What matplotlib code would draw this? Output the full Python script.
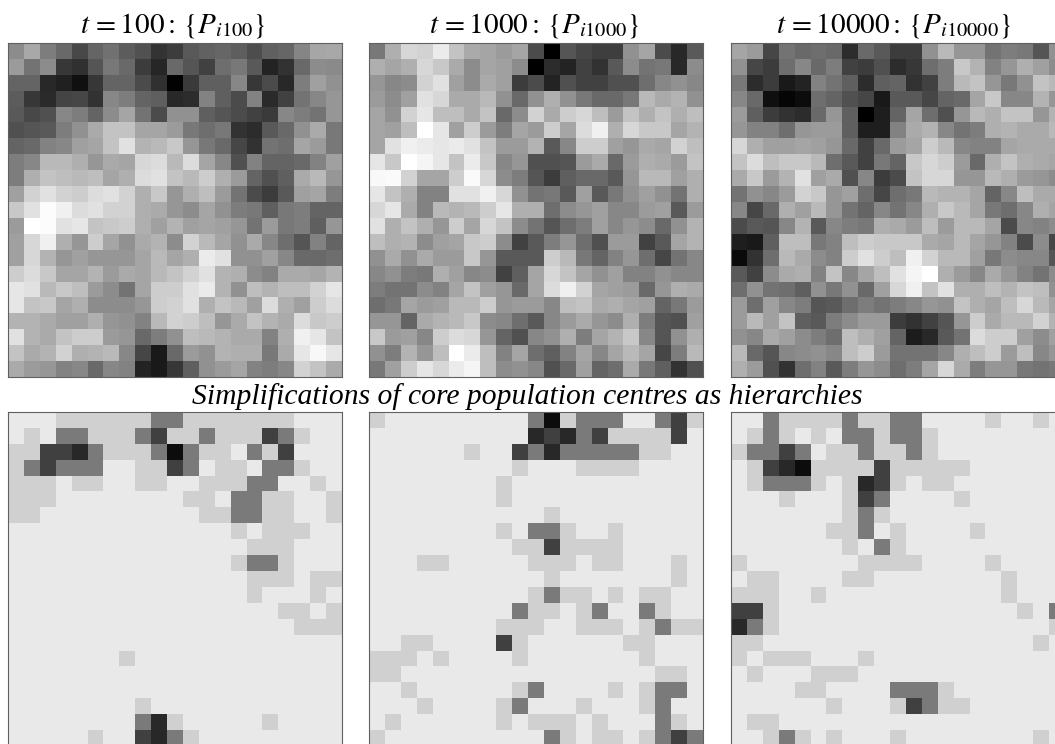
import numpy as np
import matplotlib
matplotlib.use("Agg")
import matplotlib.pyplot as plt
from matplotlib.colors import ListedColormap

plt.rcParams["font.family"] = ["Liberation Serif", "DejaVu Serif"]
plt.rcParams["mathtext.fontset"] = "stix"

# grey level of every cell, 0 black .. 255 white
pop_100 = [
    [140,168,125,106,72,101,114,92,82,51,60,90,98,102,94,77,96,102,133,166,168],
    [155,115,140,55,48,85,120,105,60,38,105,85,65,110,120,90,35,50,105,140,138],
    [100,100,40,32,16,55,100,100,75,48,2,58,95,95,135,55,75,40,125,160,145],
    [92,55,42,68,70,50,135,125,100,95,40,45,130,95,75,130,42,65,115,135,150],
    [90,72,80,135,125,100,140,165,115,75,145,145,95,85,75,65,58,135,125,115,150],
    [80,85,90,125,145,170,195,195,165,165,155,120,110,120,50,45,90,105,145,170,120],
    [100,105,130,135,160,165,195,225,180,185,200,150,120,105,70,50,115,110,165,155,120],
    [125,135,185,185,175,150,170,165,215,220,185,220,165,135,80,130,100,100,105,130,160],
    [125,175,195,190,185,190,165,175,220,225,195,185,205,175,155,100,80,95,170,185,150],
    [160,210,225,210,205,220,225,210,175,200,150,175,190,155,115,75,60,90,160,165,125],
    [200,225,252,240,220,225,210,210,175,170,150,140,165,145,125,120,95,120,125,100,100],
    [155,255,252,225,230,195,200,205,175,160,180,160,165,160,150,115,155,120,125,95,150],
    [160,215,240,175,150,205,165,145,170,180,140,210,185,165,145,170,135,110,85,130,100],
    [160,215,180,150,160,150,150,150,165,185,165,175,235,225,145,145,160,135,105,105,110],
    [205,220,200,165,165,180,155,170,165,185,195,210,225,180,175,140,130,170,170,165,180],
    [230,225,185,200,190,155,140,115,165,205,205,225,235,180,145,190,180,190,190,210,230],
    [230,195,200,165,175,140,140,140,150,205,210,225,175,195,185,160,220,175,160,205,220],
    [180,180,170,160,160,175,150,145,130,185,210,205,190,150,170,195,180,170,220,200,205],
    [225,180,170,195,205,205,155,150,105,125,145,190,185,180,170,170,130,175,240,230,195],
    [195,170,180,210,175,180,185,135,70,25,105,155,145,180,175,175,120,170,230,248,230],
    [170,155,150,130,135,105,135,130,35,25,55,95,145,155,165,130,125,135,210,195,170],
]

pop_1000 = [
    [120,175,215,210,235,195,170,165,155,165,75,0,85,70,62,62,145,165,75,40,90],
    [175,165,175,215,200,170,140,165,160,140,0,45,35,65,50,90,140,115,120,40,140],
    [150,135,140,210,225,160,140,170,160,60,75,35,80,65,65,80,80,110,135,145,135],
    [155,140,160,225,215,170,170,185,145,105,145,175,145,120,105,105,120,185,170,180,145],
    [165,145,210,230,190,190,170,195,105,140,210,170,205,215,190,155,195,175,195,175,190],
    [165,160,190,255,230,160,205,155,125,165,155,205,165,220,240,175,215,200,200,165,180],
    [165,225,240,235,230,235,225,195,155,155,180,90,135,205,205,160,150,170,165,210,190],
    [230,200,255,245,230,195,235,200,135,150,80,80,85,155,170,105,155,175,170,155,195],
    [248,250,210,165,165,205,250,215,140,125,85,60,95,105,105,90,150,185,185,160,175],
    [230,195,175,130,130,225,225,240,215,145,115,120,90,160,90,120,145,160,145,115,175],
    [215,230,170,130,185,180,185,205,230,175,175,110,140,150,160,135,135,155,160,90,155],
    [225,175,195,175,150,205,165,215,195,140,115,85,110,125,160,135,150,140,105,145,180],
    [190,175,180,140,160,165,200,205,140,65,90,125,150,110,80,155,155,65,90,165,180],
    [145,170,145,170,155,155,200,150,90,90,90,205,185,120,100,130,150,110,70,115,135],
    [135,145,125,120,175,160,135,140,65,95,165,215,195,165,145,160,130,130,145,135,135],
    [125,115,115,140,130,165,195,160,150,105,165,220,240,210,165,160,155,105,150,175,170],
    [110,120,165,155,160,185,185,205,150,155,155,135,190,195,170,175,165,160,100,120,155],
    [150,150,100,170,180,185,200,140,135,110,90,135,155,170,150,140,175,125,85,80,160],
    [200,155,160,135,205,220,215,150,100,80,135,145,175,125,165,180,200,135,85,145,175],
    [145,125,180,150,190,255,235,190,130,165,110,95,130,165,135,165,185,165,70,125,185],
    [120,160,205,230,215,235,245,190,140,145,135,80,105,160,100,110,170,120,95,50,80],
]

pop_10000 = [
    [165,155,70,115,105,110,105,45,105,90,60,60,145,185,150,150,115,125,120,85,145],
    [145,70,60,110,135,105,125,65,60,80,45,55,110,125,200,180,130,150,175,160,140],
    [120,45,60,25,35,130,115,95,45,95,100,50,65,125,185,195,150,120,145,195,185],
    [135,105,15,5,12,110,100,80,70,25,90,90,70,100,105,165,200,135,135,180,150],
    [155,95,60,50,45,105,150,95,0,30,100,165,110,80,150,185,175,195,195,150,180],
    [150,130,130,110,150,155,155,95,30,30,130,170,180,135,115,125,175,180,170,170,185],
    [215,175,160,160,165,160,150,105,65,105,155,165,205,185,135,130,130,165,170,170,170],
    [195,220,190,200,200,185,110,90,65,120,100,200,215,205,155,105,175,195,175,170,165],
    [170,200,155,180,225,160,170,80,135,60,75,195,215,215,150,150,185,175,155,150,140],
    [115,145,135,155,210,200,150,160,110,70,110,120,185,180,180,165,100,135,190,170,170],
    [135,70,105,175,160,185,150,115,100,135,115,135,175,200,185,165,120,110,135,175,165],
    [75,90,85,135,180,90,135,125,120,175,170,155,190,155,185,185,165,75,135,130,140],
    [30,25,95,190,190,120,130,190,205,200,200,200,170,165,185,165,150,130,75,140,70],
    [10,50,110,185,170,140,130,205,225,205,190,240,210,185,185,160,120,140,135,135,85],
    [90,65,140,170,175,130,195,135,165,190,225,245,255,175,155,135,170,150,130,115,140],
    [110,145,115,110,95,145,120,145,105,160,215,240,195,225,175,175,190,180,195,190,145],
    [155,110,160,135,125,85,90,110,125,115,125,135,150,145,195,175,165,190,215,185,165],
    [155,185,160,195,95,90,125,140,155,155,60,50,65,85,150,205,170,185,185,210,180],
    [145,135,170,160,140,125,110,190,175,160,100,28,40,90,115,220,205,205,160,140,160],
    [185,105,85,135,140,145,135,190,205,155,115,115,115,135,175,190,205,155,190,135,150],
    [175,155,80,50,110,130,90,125,150,140,110,125,165,215,170,125,150,150,120,115,120],
]

# hierarchy level of every cell, 0 lowest .. 5 highest
hier_100 = [
    [0,0,0,1,1,1,1,1,1,2,2,1,1,1,1,1,1,1,0,0,0],
    [0,1,0,2,2,1,1,1,2,3,1,1,2,1,1,1,3,2,1,0,0],
    [1,1,3,3,4,2,1,1,1,2,5,2,1,1,0,2,1,3,0,0,0],
    [1,2,3,2,2,2,0,0,1,1,3,2,0,1,1,0,2,2,1,0,0],
    [1,1,1,0,1,1,0,0,1,1,0,0,1,1,1,2,2,0,0,1,0],
    [1,1,1,0,0,0,0,0,0,0,0,1,1,0,2,2,1,1,0,0,1],
    [1,1,0,0,0,0,0,0,0,0,0,0,1,1,2,2,1,1,0,0,1],
    [0,0,0,0,0,0,0,0,0,0,0,0,0,0,1,0,1,1,1,0,0],
    [0,0,0,0,0,0,0,0,0,0,0,0,0,0,0,1,1,1,0,0,0],
    [0,0,0,0,0,0,0,0,0,0,0,0,0,0,1,2,2,1,0,0,0],
    [0,0,0,0,0,0,0,0,0,0,0,0,0,0,0,1,1,1,0,1,1],
    [0,0,0,0,0,0,0,0,0,0,0,0,0,0,0,1,0,0,0,1,0],
    [0,0,0,0,0,0,0,0,0,0,0,0,0,0,0,0,0,1,1,0,1],
    [0,0,0,0,0,0,0,0,0,0,0,0,0,0,0,0,0,0,1,1,1],
    [0,0,0,0,0,0,0,0,0,0,0,0,0,0,0,0,0,0,0,0,0],
    [0,0,0,0,0,0,0,1,0,0,0,0,0,0,0,0,0,0,0,0,0],
    [0,0,0,0,0,0,0,0,0,0,0,0,0,0,0,0,0,0,0,0,0],
    [0,0,0,0,0,0,0,0,0,0,0,0,0,0,0,0,0,0,0,0,0],
    [0,0,0,0,0,0,0,0,1,0,0,0,0,0,0,0,0,0,0,0,0],
    [0,0,0,0,0,0,0,0,2,4,1,0,0,0,0,0,1,0,0,0,0],
    [0,0,0,0,0,1,0,0,3,4,2,1,0,0,0,0,0,0,0,0,0],
]

hier_1000 = [
    [1,0,0,0,0,0,0,0,0,0,2,5,1,2,2,2,0,0,2,3,1],
    [0,0,0,0,0,0,0,0,0,0,4,3,4,2,3,1,1,1,1,3,0],
    [0,0,0,0,0,0,1,0,0,3,2,4,2,2,2,2,2,1,1,0,0],
    [0,0,0,0,0,0,0,0,0,1,0,0,0,1,1,1,1,0,0,0,0],
    [0,0,0,0,0,0,0,0,1,0,0,0,0,0,0,0,0,0,0,0,0],
    [0,0,0,0,0,0,0,0,1,0,0,0,0,0,0,0,0,0,0,0,0],
    [0,0,0,0,0,0,0,0,0,0,0,1,0,0,0,0,0,0,0,0,0],
    [0,0,0,0,0,0,0,0,1,0,2,2,1,0,0,1,0,0,0,0,0],
    [0,0,0,0,0,0,0,0,0,1,1,3,1,1,1,1,0,0,0,0,0],
    [0,0,0,1,1,0,0,0,0,0,1,1,1,0,1,1,0,0,0,1,0],
    [0,0,0,0,0,0,0,0,0,0,0,1,0,0,0,0,0,0,0,1,0],
    [0,0,0,0,0,0,0,0,0,0,1,2,1,1,0,1,0,1,1,0,0],
    [0,0,0,0,0,0,0,0,0,2,1,1,0,1,2,0,0,2,1,0,0],
    [0,0,0,0,0,0,0,0,1,1,1,0,0,1,1,1,0,1,2,1,1],
    [0,0,1,1,0,0,0,0,3,1,0,0,0,0,0,0,1,1,0,0,0],
    [1,1,1,0,1,0,0,0,0,1,0,0,0,0,0,0,0,1,0,0,0],
    [1,1,0,0,0,0,0,0,0,0,0,0,0,0,0,0,0,0,1,1,0],
    [0,0,1,0,0,0,0,0,0,1,2,0,0,0,0,1,0,1,2,2,0],
    [0,0,0,1,0,0,0,0,1,2,0,0,0,1,0,0,0,1,2,0,0],
    [0,1,0,0,0,0,0,0,1,0,1,1,1,0,1,0,0,0,2,1,0],
    [1,0,0,0,0,0,0,0,0,0,0,2,1,0,1,1,0,1,2,3,2],
]

hier_10000 = [
    [0,0,2,1,1,1,1,2,1,1,2,2,0,0,0,0,1,0,0,1,0],
    [0,1,2,1,0,1,0,2,2,1,2,2,1,0,0,0,0,0,0,0,0],
    [1,2,2,3,2,0,1,1,2,1,1,2,1,0,0,0,0,0,0,0,0],
    [0,1,3,4,5,1,1,1,1,3,1,1,1,1,1,0,0,0,0,0,0],
    [0,1,2,2,2,1,0,1,4,3,1,0,1,1,0,0,0,0,0,0,0],
    [0,0,0,1,0,0,0,1,3,2,0,0,0,0,1,0,0,0,0,0,0],
    [0,0,0,0,0,0,0,1,2,1,0,0,0,0,0,0,0,0,0,0,0],
    [0,0,0,0,0,0,1,1,2,0,1,0,0,0,0,1,0,0,0,0,0],
    [0,0,0,0,0,0,0,1,0,2,1,0,0,0,0,0,0,0,0,0,0],
    [1,0,0,0,0,0,0,0,1,1,1,1,0,0,0,0,1,0,0,0,0],
    [0,1,1,0,0,0,0,1,1,0,0,0,0,0,0,0,0,1,0,0,0],
    [1,1,1,0,0,1,0,0,0,0,0,0,0,0,0,0,0,1,0,0,0],
    [3,3,1,0,0,0,0,0,0,0,0,0,0,0,0,0,0,0,1,0,2],
    [4,2,1,0,0,0,0,0,0,0,0,0,0,0,0,0,0,0,0,0,1],
    [1,1,0,0,0,0,0,0,0,0,0,0,0,0,0,0,0,0,0,1,0],
    [1,0,1,1,1,0,0,0,1,0,0,0,0,0,0,0,0,0,0,0,0],
    [0,1,0,0,0,1,1,1,0,0,0,0,0,0,0,0,0,0,0,0,0],
    [0,0,0,0,1,1,0,0,0,0,2,2,2,1,0,0,0,0,0,0,0],
    [0,0,0,0,0,0,1,0,0,0,1,3,2,1,1,0,0,0,0,0,0],
    [0,1,1,0,0,0,0,0,0,0,0,0,0,0,0,0,0,0,0,0,0],
    [0,0,1,2,1,0,1,0,0,0,1,0,0,0,0,0,0,0,0,1,0],
]

titles = [r"$t\,=100\mathit{:}\,\{P_{i100}\}$", r"$t\,=1000\mathit{:}\,\{P_{i1000}\}$", r"$t\,=10000\mathit{:}\,\{P_{i10000}\}$"]
subtitle = "Simplifications of core population centres as hierarchies"
level_colors = ["#e9e9e9", "#d0d0d0", "#7a7a7a", "#404040", "#282828", "#0c0c0c"]

W, H = 1055, 744
lefts = [8.3, 369.3, 730.7]
title_x = [173, 534, 894]
size = 334


def panel(fig, x, y, data, cmap, vmax):
    ax = fig.add_axes([x / W, 1 - (y + size) / H, size / W, size / H])
    ax.imshow(np.array(data), cmap=cmap, vmin=0, vmax=vmax, interpolation="nearest", aspect="auto")
    ax.set_xticks([])
    ax.set_yticks([])
    for s in ax.spines.values():
        s.set_color("#606060")
        s.set_linewidth(0.8)
    return ax


fig = plt.figure(figsize=(W / 100, H / 100), dpi=100)

hier_cmap = ListedColormap(level_colors)
for i, d in enumerate([pop_100, pop_1000, pop_10000]):
    panel(fig, lefts[i], 43.3, d, "gray", 255)
    fig.text(title_x[i] / W, 1 - 32 / H, titles[i], ha="center", va="baseline", fontsize=21)
for i, d in enumerate([hier_100, hier_1000, hier_10000]):
    panel(fig, lefts[i], 411.7, d, hier_cmap, 5)

fig.text(527 / W, 1 - 404 / H, subtitle, ha="center", va="baseline", fontsize=21.3, style="italic")

fig.savefig("out.png", dpi=100)
